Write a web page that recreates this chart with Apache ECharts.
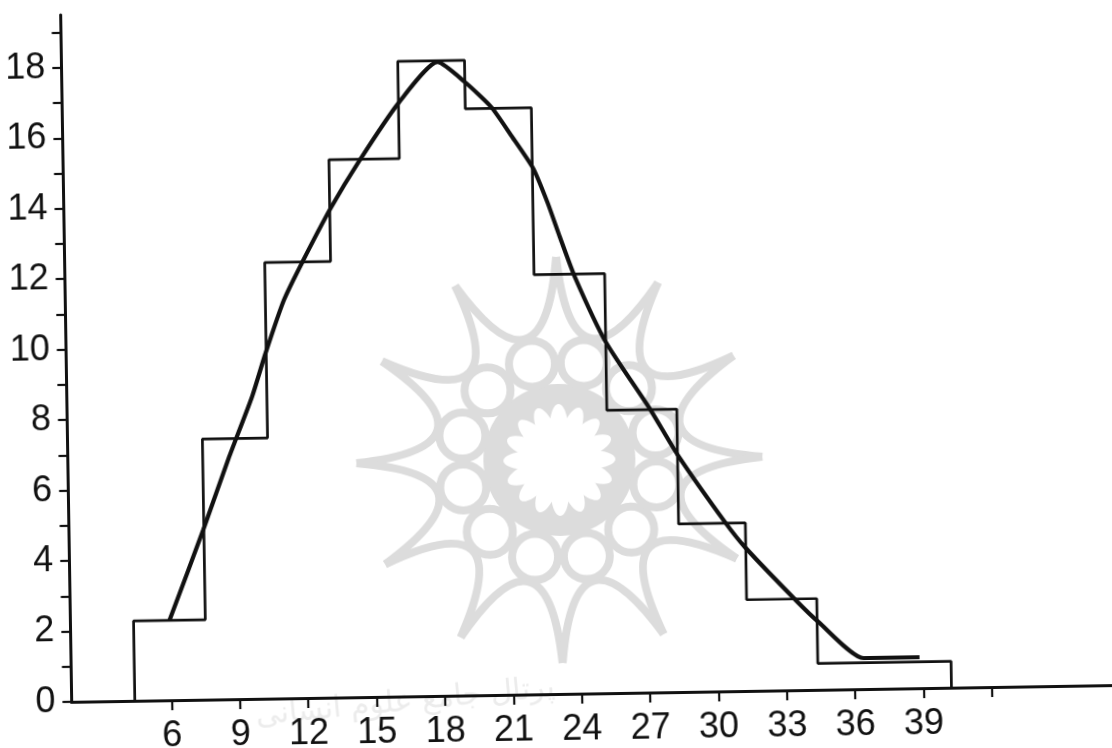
<!DOCTYPE html>
<html><head><meta charset="utf-8">
<script src="https://cdn.jsdelivr.net/npm/echarts@6/dist/echarts.min.js"></script>
<style>html,body{margin:0;padding:0;background:#fff;overflow:hidden}
#c{position:absolute;left:0;top:0;width:1112px;height:748px;transform:rotate(-0.92deg);transform-origin:556px 374px}</style>
</head><body><div id="c"></div>
<script>
const binEdges = [4.38,7.53,10.39,13.28,16.37,19.3,22.2,25.3,28.37,31.3,34.38,40.23];
const binHeights = [2.27,7.4,12.38,15.27,18.03,16.65,11.91,8.03,4.77,2.59,0.75];
const curveX = [5.96,7.51,8.68,9.74,10.37,11.21,12.02,13.33,14.63,16.38,18.11,19.32,20.44,21.29,22.23,22.85,23.36,23.99,25.3,27.21,28.37,30.41,31.27,33.51,34.45,36.39,38.85];
const curveY = [2.27,4.83,6.86,8.58,9.82,11.31,12.35,13.9,15.24,16.85,17.99,17.4,16.69,15.88,14.94,13.94,12.97,11.83,9.97,8.03,6.74,4.8,4.08,2.52,1.92,0.88,0.88];
const xTickLabels = [6,9,12,15,18,21,24,27,30,33,36,39];
const xExtraTicks = [42];
const yMax = 19.5;

const histogram = [[binEdges[0],0]];
binHeights.forEach((h,i)=>{histogram.push([binEdges[i],h],[binEdges[i+1],h]);});
histogram.push([binEdges[binEdges.length-1],0]);
const curve = curveX.map((x,i)=>[x,curveY[i]]);

const G='#dcdcdc', cx=558, cy=460, els=[];
const pol=(r,a)=>[cx+r*Math.cos(a*Math.PI/180), cy-r*Math.sin(a*Math.PI/180)];
els.push({type:'circle',z:0,shape:{cx,cy,r:76},style:{fill:G}});
for(let k=0;k<12;k++){
  const a=k*30, [x1,y1]=pol(203,a), [x2,y2]=pol(203,a+30), [qx,qy]=pol(55,a+15);
  els.push({type:'bezierCurve',z:0,shape:{x1,y1,x2,y2,cpx1:qx,cpy1:qy},style:{stroke:G,lineWidth:8,fill:null}});
  const [ox,oy]=pol(100,a+15);
  els.push({type:'circle',z:0,shape:{cx:ox,cy:oy,r:23},style:{fill:'#fff',stroke:G,lineWidth:8}});
}
for(let k=0;k<16;k++){
  els.push({type:'group',x:cx,y:cy,rotation:k*Math.PI/8,children:[{type:'ellipse',z:1,shape:{cx:33,cy:0,rx:23,ry:9},style:{fill:'#fff'}}]});
}
els.push({type:'circle',z:1,shape:{cx,cy,r:30},style:{fill:'#fff'}});
els.push({type:'text',z:0,x:400,y:700,rotation:0.08,style:{text:'پرتال جامع علوم انسانی',font:'30px "DejaVu Sans"',fill:'#ececec',textAlign:'center',textVerticalAlign:'middle'}});

const labelFont={color:'#111',fontFamily:'"Liberation Sans Narrow","Liberation Sans",sans-serif',fontSize:36};
const chart=echarts.init(document.getElementById('c'),null,{renderer:'canvas'});
chart.setOption({
  animation:false,
  backgroundColor:'#fff',
  graphic:{elements:els},
  grid:{left:66.3,top:7,bottom:53,width:1050.2},
  xAxis:{type:'value',min:1.6,max:47.5,splitLine:{show:false},
    axisLine:{show:true,onZero:false,lineStyle:{color:'#111',width:3}},
    axisTick:{show:true,length:10,lineStyle:{color:'#111',width:2.2},customValues:xTickLabels.concat(xExtraTicks)},
    axisLabel:Object.assign({show:true,margin:18,customValues:xTickLabels,hideOverlap:false},labelFont)},
  yAxis:{type:'value',min:0,max:yMax,interval:1,splitLine:{show:false},
    axisLine:{show:true,onZero:false,lineStyle:{color:'#111',width:3}},
    axisTick:{show:true,length:9,lineStyle:{color:'#111',width:2.2}},
    axisLabel:Object.assign({show:true,margin:16,showMaxLabel:false,formatter:v=>Number.isInteger(v)&&v%2===0?String(v):''},labelFont)},
  series:[
    {name:'histogram',type:'line',data:histogram,showSymbol:false,symbol:'none',z:3,clip:false,lineStyle:{color:'#111',width:2.7}},
    {name:'curve',type:'line',data:curve,smooth:0.2,showSymbol:false,symbol:'none',z:4,clip:false,lineStyle:{color:'#111',width:4.2}}
  ]
});
</script></body></html>
